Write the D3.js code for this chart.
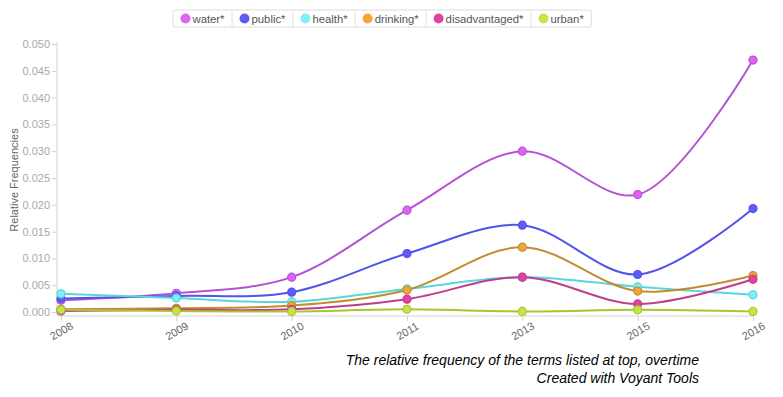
<!DOCTYPE html>
<html>
<head>
<meta charset="utf-8">
<script src="https://cdn.jsdelivr.net/npm/d3@7"></script>
<style>
  body { margin: 0; background: #fff; }
  svg { font-family: "Helvetica Neue", Helvetica, Arial, "Liberation Sans", sans-serif; }
</style>
</head>
<body>
<div id="chart"></div>
<script>
// years on the x axis (categorical, evenly spaced)
let years = ["2008", "2009", "2010", "2011", "2013", "2015", "2016"];
let terms = ["water*", "public*", "health*", "drinking*", "disadvantaged*", "urban*"];
// relative frequencies
let water         = [0.0022, 0.0035, 0.0065, 0.0190, 0.0300, 0.0219, 0.0470];
let publicTerm    = [0.0025, 0.0030, 0.0037, 0.0109, 0.0162, 0.0070, 0.0193];
let health        = [0.0034, 0.0026, 0.0019, 0.0043, 0.0065, 0.0047, 0.0032];
let drinking      = [0.0005, 0.0007, 0.0012, 0.0041, 0.0121, 0.0039, 0.0068];
let disadvantaged = [0.0002, 0.0004, 0.0005, 0.0024, 0.0065, 0.0015, 0.0061];
let urban         = [0.0004, 0.0002, 0.0001, 0.0005, 0.0001, 0.0004, 0.0001];
let yTicks = [0, 0.005, 0.01, 0.015, 0.02, 0.025, 0.03, 0.035, 0.04, 0.045, 0.05];
let captionLines = ["The relative frequency of the terms listed at top, overtime", "Created with Voyant Tools"];

let legendColors = ["#e062f2", "#5d5df3", "#7ff0f5", "#f2a636", "#e0449f", "#c6e44a"];
let lineColors   = ["#b552d4", "#5252ee", "#58d6dc", "#c38b2e", "#c03d8e", "#a9c62c"];

let series = [water, publicTerm, health, drinking, disadvantaged, urban];

let width = 783, height = 397;
let svg = d3.select("#chart").append("svg")
            .attr("width", width)
            .attr("height", height);

let x = d3.scalePoint().domain(years).range([61, 753]);
let y = d3.scaleLinear().domain([0, 0.05]).range([312, 44]);
let axisY = 316;

// y axis
let yAxis = svg.append("g")
               .attr("transform", "translate(57,0)")
               .call(d3.axisLeft(y).tickValues(yTicks).tickFormat(d3.format(".3f")).tickSize(5).tickPadding(2));
yAxis.select(".domain").remove();
yAxis.selectAll(".tick line").attr("stroke", "#cfcfcf");
yAxis.selectAll(".tick text").attr("fill", "#a8a8a8").style("font-size", "11px");
svg.append("line")
   .attr("x1", 57).attr("x2", 57).attr("y1", 42).attr("y2", axisY)
   .attr("stroke", "#d4d4d4");

// x axis
let xAxis = svg.append("g")
               .attr("transform", "translate(0," + axisY + ")")
               .call(d3.axisBottom(x).tickSize(5).tickSizeOuter(0));
xAxis.select(".domain").remove();
xAxis.selectAll(".tick line").attr("stroke", "#cfcfcf");
xAxis.selectAll(".tick text")
     .attr("fill", "#666")
     .style("font-size", "11px")
     .attr("text-anchor", "middle")
     .attr("y", 0).attr("dy", "0.35em")
     .attr("transform", "translate(0,15) rotate(-30)");
svg.append("line")
   .attr("x1", 57).attr("x2", 753).attr("y1", axisY).attr("y2", axisY)
   .attr("stroke", "#d4d4d4");

// y title
svg.append("text")
   .attr("transform", "translate(18,180) rotate(-90)")
   .attr("text-anchor", "middle")
   .attr("fill", "#666")
   .style("font-size", "11px")
   .text("Relative Frequencies");

// lines and points
let line = d3.line()
             .x((d, i) => x(years[i]))
             .y((d) => y(d))
             .curve(d3.curveCatmullRom);

series.forEach((vals, k) => {
    svg.append("path")
       .attr("d", line(vals))
       .attr("fill", "none")
       .attr("stroke", lineColors[k])
       .attr("stroke-width", 2);
});
series.forEach((vals, k) => {
    svg.selectAll(null)
       .data(vals).enter()
       .append("circle")
       .attr("cx", (d, i) => x(years[i]))
       .attr("cy", (d) => y(d))
       .attr("r", 4)
       .attr("fill", legendColors[k])
       .attr("stroke", lineColors[k])
       .attr("stroke-width", 1.2);
});

// legend
let legend = svg.append("g");
let legBox = legend.append("rect")
                   .attr("y", 10).attr("height", 17)
                   .attr("rx", 2)
                   .attr("fill", "#fff")
                   .attr("stroke", "#dcdcdc");
let lx = 173;
terms.forEach((t, k) => {
    if (k > 0) {
        legend.append("line")
              .attr("x1", lx).attr("x2", lx).attr("y1", 10).attr("y2", 27)
              .attr("stroke", "#e2e2e2");
    }
    legend.append("circle")
          .attr("cx", lx + 12.5).attr("cy", 18.5).attr("r", 5)
          .attr("fill", legendColors[k]);
    let txt = legend.append("text")
                    .attr("x", lx + 19.5).attr("y", 22.5)
                    .attr("fill", "#555")
                    .style("font-size", "11.3px")
                    .text(t);
    lx = lx + 19.5 + txt.node().getComputedTextLength() + 7.5;
});
legBox.attr("x", 173).attr("width", lx - 173);

// caption
svg.selectAll(".caption")
   .data(captionLines).enter()
   .append("text")
   .attr("class", "caption")
   .attr("x", 699)
   .attr("y", (d, i) => 365 + i * 18)
   .attr("text-anchor", "end")
   .attr("fill", "#000")
   .style("font-size", "14px")
   .style("font-style", "italic")
   .text((d) => d);
</script>
</body>
</html>
